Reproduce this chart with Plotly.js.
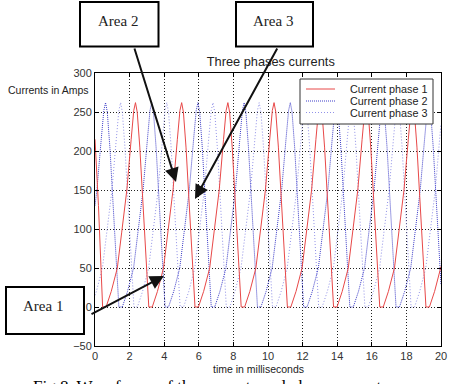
<!DOCTYPE html>
<html>
<head>
<meta charset="utf-8">
<script src="https://cdn.plot.ly/plotly-3.0.1.min.js"></script>
<style>html,body{margin:0;padding:0;background:#fff;}#chart{width:449px;height:384px;}</style>
</head>
<body>
<div id="chart"></div>
<script>
// ---- data (time in ms, current in A) ----
const phase1Time = [0,0.2,0.44,
  0.64,0.94,1.29,1.54,1.84,2.09,2.24,2.34,2.44,2.59,2.74,2.94,3.11,
  3.31,3.61,3.96,4.21,4.51,4.76,4.91,5.01,5.11,5.26,5.41,5.61,5.78,
  5.98,6.28,6.63,6.88,7.18,7.43,7.58,7.68,7.78,7.93,8.08,8.28,8.45,
  8.65,8.95,9.30,9.55,9.85,10.10,10.25,10.35,10.45,10.60,10.75,10.95,11.12,
  11.32,11.62,11.97,12.22,12.52,12.77,12.92,13.02,13.12,13.27,13.42,13.62,13.79,
  13.99,14.29,14.64,14.89,15.19,15.44,15.59,15.69,15.79,15.94,16.09,16.29,16.46,
  16.66,16.96,17.31,17.56,17.86,18.11,18.26,18.36,18.46,18.61,18.76,18.96,19.13,
  19.33,19.63,19.98,20];
const phase1Current = [215,130,0,
  0,20,50,95,150,215,252,262,250,205,150,70,0,
  0,20,50,95,150,215,252,262,250,205,150,70,0,
  0,20,50,95,150,215,252,262,250,205,150,70,0,
  0,20,50,95,150,215,252,262,250,205,150,70,0,
  0,20,50,95,150,215,252,262,250,205,150,70,0,
  0,20,50,95,150,215,252,262,250,205,150,70,0,
  0,20,50,95,150,215,252,262,250,205,150,70,0,
  0,20,50,52];

const phase2Time = [0,0.11,0.36,0.51,0.61,0.71,0.86,1.01,1.21,1.38,
  1.58,1.88,2.23,2.48,2.78,3.03,3.18,3.28,3.38,3.53,3.68,3.88,4.05,
  4.25,4.55,4.90,5.15,5.45,5.70,5.85,5.95,6.05,6.20,6.35,6.55,6.72,
  6.92,7.22,7.57,7.82,8.12,8.37,8.52,8.62,8.72,8.87,9.02,9.22,9.39,
  9.59,9.89,10.24,10.49,10.79,11.04,11.19,11.29,11.39,11.54,11.69,11.89,12.06,
  12.26,12.56,12.91,13.16,13.46,13.71,13.86,13.96,14.06,14.21,14.36,14.56,14.73,
  14.93,15.23,15.58,15.83,16.13,16.38,16.53,16.63,16.73,16.88,17.03,17.23,17.40,
  17.60,17.90,18.25,18.50,18.80,19.05,19.20,19.30,19.40,19.55,19.70,19.90,20];
const phase2Current = [130,150,215,252,262,250,205,150,70,0,
  0,20,50,95,150,215,252,262,250,205,150,70,0,
  0,20,50,95,150,215,252,262,250,205,150,70,0,
  0,20,50,95,150,215,252,262,250,205,150,70,0,
  0,20,50,95,150,215,252,262,250,205,150,70,0,
  0,20,50,95,150,215,252,262,250,205,150,70,0,
  0,20,50,95,150,215,252,262,250,205,150,70,0,
  0,20,50,95,150,215,252,262,250,205,150,70,29];

const phase3Time = [0,0.08,0.43,0.68,0.98,1.23,1.38,1.48,1.58,1.73,1.88,2.08,2.25,
  2.45,2.75,3.10,3.35,3.65,3.90,4.05,4.15,4.25,4.40,4.55,4.75,4.92,
  5.12,5.42,5.77,6.02,6.32,6.57,6.72,6.82,6.92,7.07,7.22,7.42,7.59,
  7.79,8.09,8.44,8.69,8.99,9.24,9.39,9.49,9.59,9.74,9.89,10.09,10.26,
  10.46,10.76,11.11,11.36,11.66,11.91,12.06,12.16,12.26,12.41,12.56,12.76,12.93,
  13.13,13.43,13.78,14.03,14.33,14.58,14.73,14.83,14.93,15.08,15.23,15.43,15.60,
  15.80,16.10,16.45,16.70,17.00,17.25,17.40,17.50,17.60,17.75,17.90,18.10,18.27,
  18.47,18.77,19.12,19.37,19.67,19.92,20];
const phase3Current = [15,20,50,95,150,215,252,262,250,205,150,70,0,
  0,20,50,95,150,215,252,262,250,205,150,70,0,
  0,20,50,95,150,215,252,262,250,205,150,70,0,
  0,20,50,95,150,215,252,262,250,205,150,70,0,
  0,20,50,95,150,215,252,262,250,205,150,70,0,
  0,20,50,95,150,215,252,262,250,205,150,70,0,
  0,20,50,95,150,215,252,262,250,205,150,70,0,
  0,20,50,95,150,215,235];

const seriesNames = ['Current phase 1','Current phase 2','Current phase 3'];
const xTicks = [0,2,4,6,8,10,12,14,16,18,20];
const yTicks = [-50,0,50,100,150,200,250,300];
const areaLabels = ['Area 1','Area 2','Area 3'];

// ---- styles / layout ----
const colors = ['rgb(232,72,72)','rgb(60,60,200)','rgb(145,145,232)'];
const dashes = ['solid','1px,1px','1px,2px'];
const sans = 'Liberation Sans, Arial, sans-serif';
const serif = 'Liberation Serif, Times New Roman, serif';

const L = 95, T = 73, W = 346, H = 273;
const px = x => (x - L) / W;
const py = y => (T + H - y) / H;

const traces = [
  {x: phase3Time, y: phase3Current, name: seriesNames[2], mode: 'lines', line: {color: colors[2], width: 1, dash: dashes[2]}},
  {x: phase2Time, y: phase2Current, name: seriesNames[1], mode: 'lines', line: {color: colors[1], width: 1, dash: dashes[1]}},
  {x: phase1Time, y: phase1Current, name: seriesNames[0], mode: 'lines', line: {color: colors[0], width: 1, dash: dashes[0]}}
];

const axisCommon = {
  showgrid: true, gridcolor: '#222', gridwidth: 1, griddash: '1px,2px',
  zeroline: false, showline: true, linecolor: '#000', linewidth: 1, mirror: 'ticks',
  ticks: 'inside', ticklen: 4, tickcolor: '#000',
  tickfont: {family: sans, size: 11, color: '#333'}, fixedrange: true
};

const shapes = [
  {type: 'rect', xref: 'paper', yref: 'paper', x0: px(6), x1: px(84), y0: py(287), y1: py(334), line: {color: '#000', width: 2}, fillcolor: 'white'},
  {type: 'rect', xref: 'paper', yref: 'paper', x0: px(80), x1: px(158.5), y0: py(2), y1: py(46.5), line: {color: '#000', width: 2}, fillcolor: 'white'},
  {type: 'rect', xref: 'paper', yref: 'paper', x0: px(236), x1: px(313), y0: py(2), y1: py(46.5), line: {color: '#000', width: 2}, fillcolor: 'white'},
  {type: 'rect', xref: 'paper', yref: 'paper', x0: px(300), x1: px(433), y0: py(79), y1: py(124), line: {color: '#333', width: 1}, fillcolor: 'white'}
];
const legendRows = [89, 101, 112.5];
seriesNames.forEach((n, i) => {
  shapes.push({type: 'line', xref: 'paper', yref: 'paper', x0: px(306), x1: px(335), y0: py(legendRows[i]), y1: py(legendRows[i]),
    line: {color: colors[i], width: 1, dash: dashes[i]}});
});

function label(text, x, y, font, xanchor) {
  return {text: text, xref: 'paper', yref: 'paper', x: px(x), y: py(y), xanchor: xanchor || 'center', yanchor: 'middle',
    showarrow: false, font: font};
}
function arrow(hx, hy, tx, ty) {
  return {text: '', xref: 'paper', yref: 'paper', x: px(hx), y: py(hy), ax: tx - hx, ay: ty - hy,
    showarrow: true, arrowhead: 2, arrowsize: 1.4, arrowwidth: 2, arrowcolor: '#111', standoff: 0};
}

const annotations = [
  label('Currents in Amps', 48, 90, {family: sans, size: 10.5, color: '#222'}),
  label('time in milliseconds', 258, 369, {family: sans, size: 10.5, color: '#222'}),
  label(areaLabels[0], 43, 306, {family: serif, size: 15, color: '#222'}),
  label(areaLabels[1], 118, 21, {family: serif, size: 15, color: '#222'}),
  label(areaLabels[2], 272.5, 21, {family: serif, size: 15, color: '#222'}),
  arrow(176, 182, 134, 47),
  arrow(195, 199, 278, 47),
  arrow(164, 276, 90, 315),
  {text: 'Fig.8. Waveforms of the currents and phase currents', xref: 'paper', yref: 'paper', x: px(31), y: py(375), xanchor: 'left', yanchor: 'top', showarrow: false, font: {family: serif, size: 17, color: '#000'}}
];
seriesNames.forEach((n, i) => {
  annotations.push(label(n, 429, legendRows[i], {family: sans, size: 10.8, color: '#222'}, 'right'));
});

const layout = {
  width: 449, height: 384,
  margin: {l: L, r: 449 - L - W, t: T, b: 384 - T - H},
  paper_bgcolor: '#fff', plot_bgcolor: '#fff',
  showlegend: false,
  title: {text: 'Three phases currents', font: {family: sans, size: 12.8, color: '#222'},
    xref: 'container', yref: 'container', x: 270.8 / 449, xanchor: 'center', y: 1 - 62 / 384, yanchor: 'middle'},
  xaxis: Object.assign({}, axisCommon, {range: [0, 20], tickvals: xTicks}),
  yaxis: Object.assign({}, axisCommon, {range: [-50, 300], tickvals: yTicks}),
  shapes: shapes,
  annotations: annotations
};

Plotly.newPlot('chart', traces, layout, {displayModeBar: false, staticPlot: true});
</script>
</body>
</html>
